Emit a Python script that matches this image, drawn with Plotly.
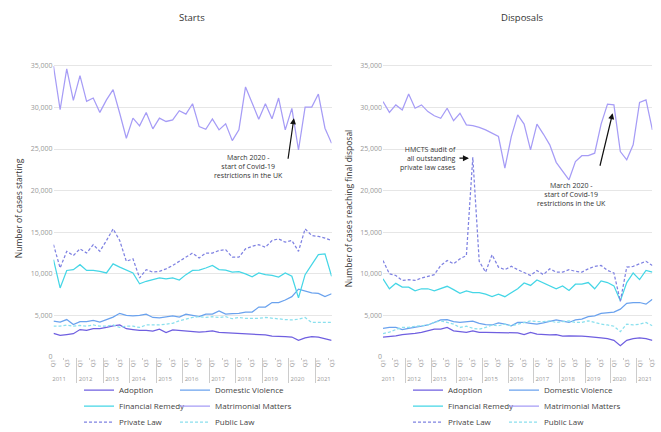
import plotly.graph_objects as go

YEARS = ["2011", "2012", "2013", "2014", "2015", "2016", "2017", "2018", "2019", "2020", "2021"]
QUARTERS = ["Q1", "Q2", "Q3", "Q4"]
N = 43  # 2011 Q1 .. 2021 Q3
x_year = [y for y in YEARS for _ in QUARTERS][:N]
x_q = [q for _ in YEARS for q in QUARTERS][:N]

# ---- Starts ----
s_adoption = [2850, 2600, 2700, 2800, 3300, 3200, 3400, 3400, 3550, 3750, 3850, 3400, 3300, 3200, 3200,
              3100, 3350, 2950, 3250, 3200, 3100, 3050, 3000, 3050, 3150, 2950, 2900, 2850, 2850, 2800,
              2700, 2700, 2650, 2500, 2500, 2450, 2400, 2000, 2300, 2450, 2400, 2200, 2000]
s_dv = [4300, 4200, 4500, 3900, 4250, 4250, 4400, 4200, 4500, 4800, 5250, 5000, 4950, 5000, 5150,
        4750, 4700, 4850, 4950, 4800, 5150, 5000, 4850, 5150, 5150, 5550, 5150, 5200, 5250, 5400,
        5400, 6000, 6000, 6550, 6550, 6850, 7250, 8150, 7950, 7700, 7650, 7250, 7600]
s_fr = [11700, 8300, 10400, 10500, 11100, 10400, 10400, 10300, 10100, 11200, 10800, 10400, 10100, 8800, 9100,
        9300, 9500, 9400, 9500, 9250, 9900, 10400, 10450, 10700, 11000, 10500, 10450, 10200, 10250, 10000,
        9650, 10100, 9900, 9800, 9600, 10100, 9700, 7100, 9900, 11100, 12300, 12400, 9700]
s_mm = [34960, 29720, 34630, 30850, 33830, 30730, 31130, 29400, 30900, 32140, 29300, 26290, 28710, 27780, 29400,
        27420, 28710, 28310, 28500, 29600, 29200, 30440, 27700, 27380, 28630, 27300, 28020, 26010, 27300, 32460,
        30520, 28590, 30440, 28630, 31130, 27300, 29880, 24880, 30040, 30040, 31610, 27500, 25690]
s_priv = [13500, 10700, 12700, 12200, 13000, 12500, 13500, 12700, 14000, 15400, 14000, 11500, 11800, 9500, 10500,
          10200, 10300, 10600, 11000, 11500, 12000, 12500, 11900, 12500, 12500, 12800, 12900, 12000, 12000, 13000,
          13300, 13500, 13200, 14000, 14200, 13800, 14000, 12700, 15400, 14600, 14500, 14300, 14000]
s_pub = [3700, 3700, 3850, 3700, 3800, 3700, 3850, 3700, 3700, 3850, 3550, 3700, 3700, 3550, 3850,
         3850, 3850, 3950, 4050, 4350, 4550, 4750, 4850, 4750, 4850, 4750, 4850, 4600, 4750, 4650,
         4650, 4650, 4750, 4650, 4550, 4500, 4450, 4550, 4750, 4150, 4150, 4150, 4150]

# ---- Disposals ----
d_adoption = [2400, 2450, 2550, 2700, 2750, 2850, 2950, 3150, 3350, 3350, 3550, 3150, 3050, 2950, 3150,
              2950, 2950, 2950, 2950, 2950, 2950, 2900, 2700, 2950, 2750, 2700, 2650, 2700, 2500, 2550,
              2550, 2500, 2450, 2400, 2300, 2200, 2000, 1350, 2000, 2200, 2300, 2200, 2000]
d_dv = [3450, 3550, 3550, 3300, 3450, 3550, 3700, 3850, 4150, 4450, 4500, 4250, 4150, 4250, 4300,
        4050, 3900, 3850, 4100, 3950, 3750, 4150, 4150, 4050, 3950, 4100, 4250, 4450, 4300, 4150,
        4450, 4550, 4850, 4950, 5250, 5350, 5400, 5750, 6450, 6550, 6550, 6350, 6950]
d_fr = [9400, 8200, 8850, 8400, 8400, 7950, 8200, 8200, 7950, 8200, 8500, 8100, 7650, 7950, 7750,
        7750, 7550, 7250, 7550, 7250, 7750, 8200, 8900, 8600, 9250, 8900, 8500, 8200, 8550, 8000,
        8750, 8750, 8950, 8200, 9150, 8950, 8550, 6750, 8950, 10100, 9300, 10400, 10200]
d_mm = [30700, 29400, 30300, 29700, 31600, 29900, 30300, 29500, 29000, 28700, 29900, 28400, 29300, 27900, 27800,
        27600, 27300, 26900, 26500, 22700, 26500, 29100, 28000, 24900, 28000, 26800, 25500, 23400, 22300, 21300,
        23500, 24200, 24200, 24500, 28000, 30400, 30300, 24700, 23700, 25500, 30600, 30900, 27300]
d_priv = [11600, 10000, 9800, 9200, 9300, 9200, 9500, 9700, 9900, 11000, 11600, 11200, 11800, 12200, 24000,
          11500, 10200, 12300, 10800, 10500, 10900, 10500, 10100, 9800, 10400, 9900, 10600, 10200, 10200, 10500,
          10300, 10200, 10600, 10900, 11000, 10400, 10100, 6700, 10800, 10900, 11200, 11500, 11000]
d_pub = [2800, 3000, 3300, 3550, 3550, 3700, 3750, 3850, 4150, 4350, 4150, 3950, 3550, 3700, 3450,
         3350, 3550, 3850, 3750, 3950, 3750, 3950, 4100, 4350, 4250, 4250, 4350, 4150, 4250, 4350,
         4150, 4150, 4350, 4150, 3950, 3850, 3700, 3050, 3950, 3850, 3950, 4150, 3750]

DASH = "3px,2px"
# (name, colour, dash, starts, disposals, legend column, legend row)
SERIES = [
    ("Adoption", "#6f5fe0", "solid", s_adoption, d_adoption, 0, 0),
    ("Domestic Violence", "#6aa2ee", "solid", s_dv, d_dv, 1, 0),
    ("Financial Remedy", "#45d6e6", "solid", s_fr, d_fr, 0, 1),
    ("Matrimonial Matters", "#a69cf6", "solid", s_mm, d_mm, 1, 1),
    ("Private Law", "#7f82e2", DASH, s_priv, d_priv, 0, 2),
    ("Public Law", "#8ae0ee", DASH, s_pub, d_pub, 1, 2),
]

W, H = 661, 432
def px(v): return v / W
def py(v): return 1 - v / H

FONT = "Open Sans"
ROW_Y = [390, 406, 422]          # legend rows (px)
COL_TEXT = {"x": [119, 215], "x2": [448, 544]}   # legend text starts (px)

fig = go.Figure()
leg_layout = {}
k = 0
for name, color, dash, sv, dv, col, row in SERIES:
    for xa, ya, vals in (("x", "y", sv), ("x2", "y2", dv)):
        k += 1
        lname = "legend" if k == 1 else f"legend{k}"
        fig.add_trace(go.Scatter(x=[x_year, x_q], y=vals, mode="lines", name=name,
                                 line=dict(color=color, width=1.25, dash=dash),
                                 xaxis=xa, yaxis=ya, legend=lname))
        leg_layout[lname] = dict(x=px(COL_TEXT[xa][col] - 40), y=py(ROW_Y[row]),
                                 xanchor="left", yanchor="middle", orientation="h",
                                 bgcolor="rgba(0,0,0,0)",
                                 font=dict(size=8, color="#444", family=FONT))

xaxis_common = dict(type="multicategory", showgrid=False, showline=False, ticks="outside",
                    ticklen=2, tickcolor="#ccc", tickangle=-90, automargin=False,
                    tickfont=dict(size=6, color="#999", family=FONT),
                    showdividers=True, dividercolor="#ccc", dividerwidth=1)
yaxis_common = dict(range=[0, 35700], showgrid=True, gridcolor="#e6e6e6", gridwidth=1,
                    zeroline=False, tickvals=[0, 5000, 10000, 15000, 20000, 25000, 30000, 35000],
                    tickformat=",", tickfont=dict(size=7, color="#999", family=FONT), ticks="",
                    automargin=False)

fig.update_layout(
    width=W, height=H, margin=dict(l=0, r=0, t=0, b=0, autoexpand=False),
    paper_bgcolor="white", plot_bgcolor="white",
    font=dict(family=FONT, color="#444"),
    xaxis=dict(domain=[px(53.5), px(331.6)], anchor="y", **xaxis_common),
    yaxis=dict(domain=[py(357), py(60)], anchor="x",
               title=dict(text="Number of cases starting", font=dict(size=8.5, color="#333"), standoff=6),
               **yaxis_common),
    xaxis2=dict(domain=[px(383), px(652.4)], anchor="y2", **xaxis_common),
    yaxis2=dict(domain=[py(357), py(60)], anchor="x2",
                title=dict(text="Number of cases reaching final disposal", font=dict(size=8.5, color="#333"), standoff=6),
                **yaxis_common),
    showlegend=True,
    **leg_layout,
)

ann_font = dict(size=7, color="#333", family=FONT)
def note(text, x, y, xanchor="center", align="center", font=ann_font):
    fig.add_annotation(text=text, xref="paper", yref="paper", x=px(x), y=py(y),
                       xanchor=xanchor, yanchor="middle", align=align, showarrow=False, font=font)

title_font = dict(size=9.5, color="#333", family=FONT)
note("Starts", 192, 17, font=title_font)
note("Disposals", 522, 17, font=title_font)
note("March 2020 -<br>start of Covid-19<br>restrictions in the UK", 248, 166.5)
note("March 2020 -<br>start of Covid-19<br>restrictions in the UK", 571, 195)
note("HMCTS audit of<br>all outstanding<br>private law cases", 458, 158.5, xanchor="right", align="right")

# arrows
fig.add_annotation(text="", xref="x", yref="y", x=36.3, y=28700, ax=-6, ay=42,
                   showarrow=True, arrowhead=2, arrowsize=1, arrowwidth=1.2, arrowcolor="#111")
fig.add_annotation(text="", xref="x2", yref="y2", x=35.8, y=29300, ax=-13, ay=54,
                   showarrow=True, arrowhead=2, arrowsize=1, arrowwidth=1.2, arrowcolor="#111")
fig.add_annotation(text="", xref="x2", yref="y2", x=13.4, y=23900, ax=-11, ay=0,
                   showarrow=True, arrowhead=2, arrowsize=1, arrowwidth=1.2, arrowcolor="#111")

fig.write_html("out.html", config={"displayModeBar": False},
               post_script="document.body.style.margin='0';document.body.style.overflow='hidden';")
